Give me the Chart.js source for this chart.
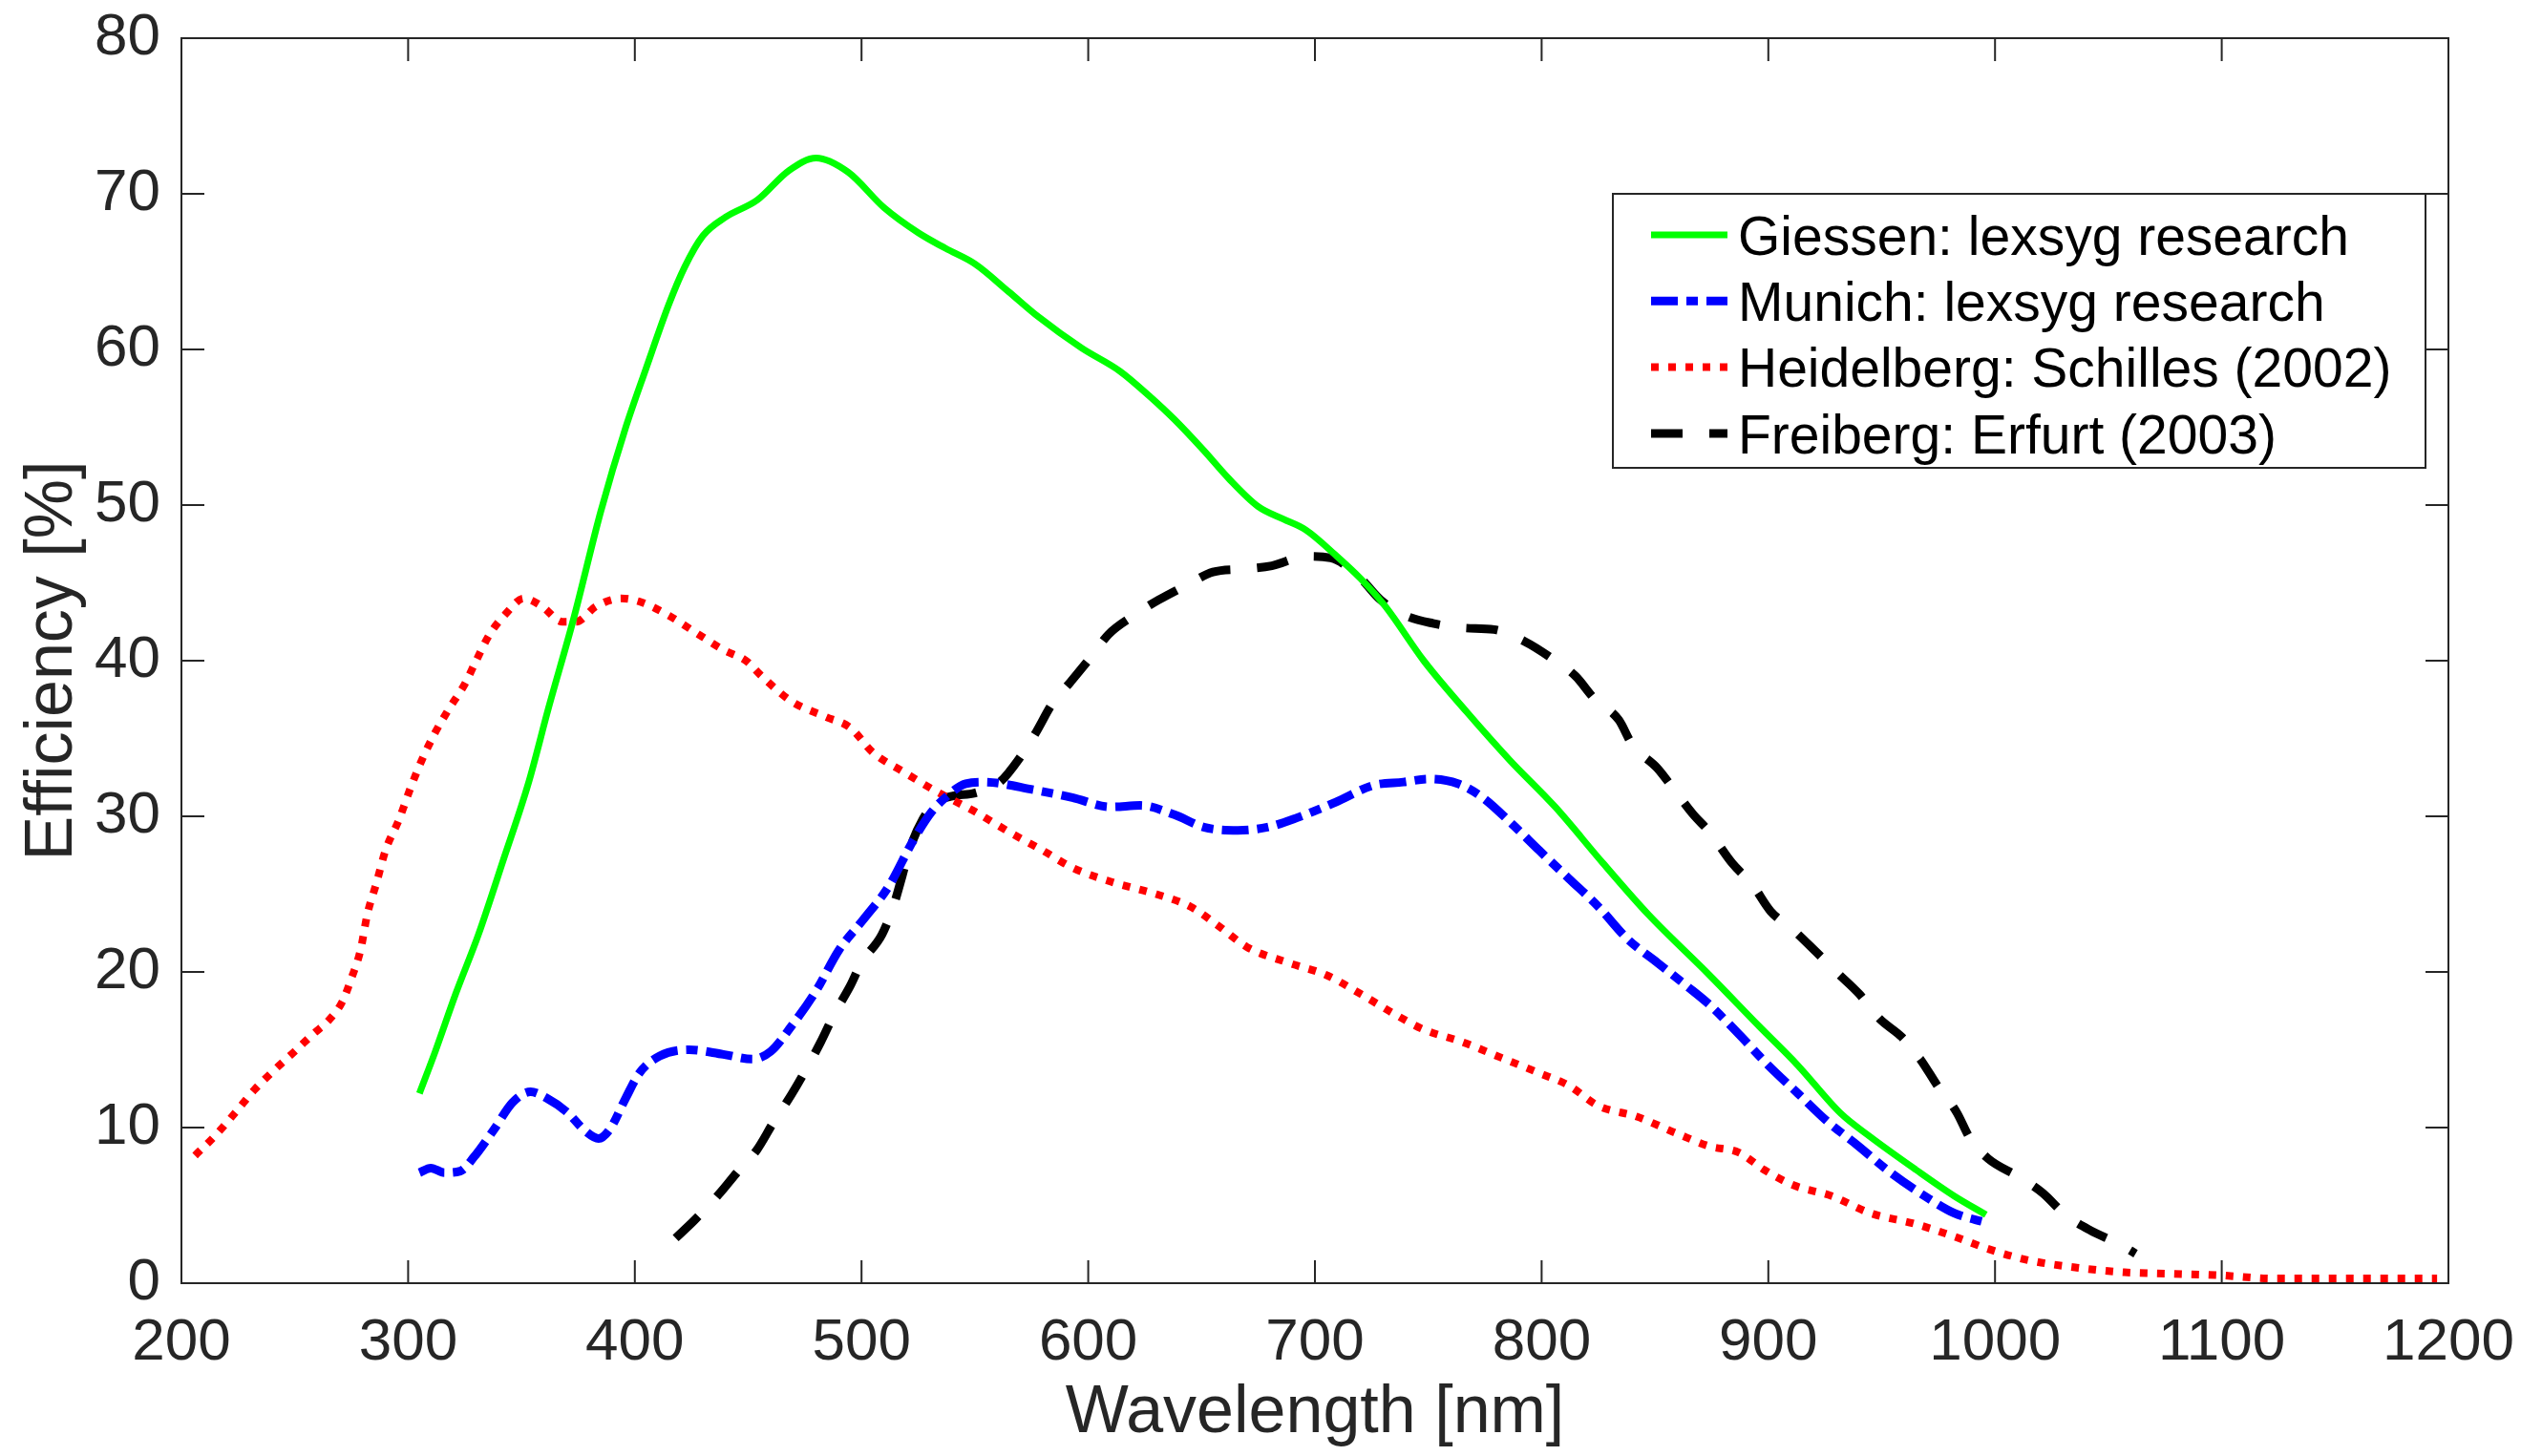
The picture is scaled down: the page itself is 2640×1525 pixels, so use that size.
<!DOCTYPE html>
<html>
<head>
<meta charset="utf-8">
<script src="https://cdn.jsdelivr.net/npm/chart.js@4.4.1/dist/chart.umd.min.js"></script>
<style>
  html, body { margin: 0; padding: 0; background: #fff; }
  #wrap { width: 2640px; height: 1525px; position: relative; }
</style>
</head>
<body>
<div id="wrap"><canvas id="chart"></canvas></div>
<script>
// Données (longueur d'onde en nm, efficacité en %)
const seriesNames = [
    'Giessen: lexsyg research',
    'Munich: lexsyg research',
    'Heidelberg: Schilles (2002)',
    'Freiberg: Erfurt (2003)'
];

const giessenX = [305, 312, 321, 331, 342, 353, 362, 373, 385, 396, 405, 415, 422, 430, 440, 454, 468, 480, 494, 510,
    525, 537, 550, 565, 578, 597, 614, 627, 638, 651, 662, 675, 686, 696, 709, 720, 731, 748, 767, 786,
    806, 827, 847, 874, 896, 913, 932, 945, 965, 982, 996];
const giessenY = [12.2, 14.9, 18.6, 22.4, 27.2, 32.1, 37.0, 42.7, 49.6, 55.0, 58.8, 62.9, 65.3, 67.3, 68.5, 69.6, 71.5, 72.3, 71.4, 69.1,
    67.5, 66.5, 65.5, 63.7, 62.1, 60.1, 58.6, 57.0, 55.5, 53.5, 51.7, 49.9, 49.1, 48.4, 46.8, 45.3, 43.5, 40.0, 36.7, 33.6,
    30.6, 27.0, 23.7, 19.8, 16.5, 14.0, 10.9, 9.4, 7.3, 5.6, 4.4];

const munichX = [305, 310, 316, 323, 329, 338, 346, 354, 361, 370, 378, 384, 389, 396, 402, 411, 424, 439, 452, 460,
    469, 480, 490, 501, 512, 523, 531, 537, 546, 554, 576, 593, 610, 623, 638, 651, 666, 679, 692, 709,
    726, 739, 750, 763, 774, 787, 799, 812, 825, 838, 851, 864, 874, 887, 900, 913, 926, 939, 954, 969,
    982, 996];
const munichY = [7.1, 7.4, 7.1, 7.2, 8.1, 9.9, 11.6, 12.3, 11.9, 11.0, 9.8, 9.3, 9.9, 11.9, 13.5, 14.6, 15.0, 14.7, 14.4, 14.9,
    16.5, 18.8, 21.4, 23.4, 25.5, 28.5, 30.3, 31.2, 32.1, 32.2, 31.7, 31.2, 30.6, 30.7, 30.1, 29.3, 29.1, 29.3, 29.9, 30.9,
    32.0, 32.2, 32.4, 32.1, 31.2, 29.5, 27.8, 26.0, 24.2, 22.1, 20.6, 19.1, 17.9, 16.0, 14.0, 12.2, 10.4, 8.9, 7.1, 5.6,
    4.5, 3.9];

const heidelbergX = [206, 215, 224, 232, 241, 250, 258, 265, 271, 275, 279, 282, 286, 290, 296, 301, 306, 312, 318, 325,
    330, 336, 343, 351, 359, 368, 374, 383, 394, 402, 415, 428, 439, 449, 456, 469, 484, 495, 505, 518,
    533, 550, 565, 580, 593, 610, 630, 645, 658, 670, 688, 705, 720, 735, 748, 765, 782, 799, 812, 825,
    842, 860, 874, 887, 898, 911, 928, 945, 965, 982, 997, 1014, 1036, 1057, 1079, 1100, 1122, 1154, 1195];
const heidelbergY = [8.2, 9.5, 11.0, 12.4, 13.7, 14.9, 16.0, 16.9, 18.1, 19.6, 21.4, 23.7, 25.7, 27.8, 29.8, 31.8, 33.6, 35.4, 36.9, 38.5,
    40.0, 41.7, 43.0, 44.0, 43.5, 42.5, 42.5, 43.5, 44.0, 43.8, 42.9, 41.7, 40.7, 40.0, 39.0, 37.4, 36.4, 35.7, 34.1, 32.9,
    31.6, 30.3, 29.0, 27.8, 26.7, 25.8, 25.0, 24.2, 22.9, 21.6, 20.6, 19.8, 18.6, 17.3, 16.3, 15.5, 14.5, 13.5, 12.7, 11.4,
    10.7, 9.6, 8.8, 8.4, 7.3, 6.3, 5.6, 4.5, 3.8, 3.0, 2.2, 1.5, 1.0, 0.7, 0.6, 0.5, 0.3, 0.3, 0.3];

const freibergX = [418, 426, 437, 445, 454, 461, 469, 475, 482, 488, 495, 500, 509, 514, 518, 521, 527, 533, 540, 550,
    561, 570, 577, 584, 592, 601, 609, 620, 631, 644, 655, 669, 681, 696, 707, 720, 729, 740, 752, 766,
    779, 793, 804, 815, 823, 834, 840, 851, 859, 867, 874, 884, 893, 901, 911, 921, 930, 940, 949, 959,
    967, 975, 983, 989, 997, 1011, 1021, 1031, 1042, 1055, 1062];
const freibergY = [2.9, 4.0, 5.7, 7.1, 8.6, 10.3, 12.1, 13.6, 15.5, 17.3, 19.1, 20.6, 22.4, 24.2, 26.2, 27.8, 29.8, 30.9, 31.3, 31.5,
    32.2, 33.8, 35.4, 37.2, 38.6, 40.2, 41.7, 42.9, 43.9, 44.9, 45.7, 45.9, 46.1, 46.7, 46.6, 45.3, 43.9, 42.9, 42.4, 42.1,
    42.0, 41.2, 40.2, 39.0, 37.6, 36.2, 34.6, 33.1, 31.6, 30.1, 29.0, 27.0, 25.6, 23.9, 22.7, 21.3, 20.0, 18.6, 17.0, 15.8,
    14.4, 12.6, 11.0, 9.3, 8.0, 6.8, 5.8, 4.4, 3.4, 2.5, 1.9];

const xTicks = [200, 300, 400, 500, 600, 700, 800, 900, 1000, 1100, 1200];
const yTicks = [0, 10, 20, 30, 40, 50, 60, 70, 80];

const axisColor = '#262626';
const fontFamily = "'Liberation Sans', Arial, Helvetica, sans-serif";

const toPoints = (xs, ys) => xs.map((x, i) => ({ x: x, y: ys[i] }));

// Cadre façon MATLAB : boîte complète + graduations vers l'intérieur
const framePlugin = {
    id: 'frame',
    afterDatasetsDraw(chart) {
        const { ctx, chartArea: a, scales: { x, y } } = chart;
        const tickLen = 24;
        ctx.save();
        ctx.strokeStyle = axisColor;
        ctx.lineWidth = 2;
        ctx.strokeRect(a.left, a.top, a.right - a.left, a.bottom - a.top);
        ctx.beginPath();
        xTicks.forEach(v => {
            const px = x.getPixelForValue(v);
            ctx.moveTo(px, a.bottom); ctx.lineTo(px, a.bottom - tickLen);
            ctx.moveTo(px, a.top); ctx.lineTo(px, a.top + tickLen);
        });
        yTicks.forEach(v => {
            const py = y.getPixelForValue(v);
            ctx.moveTo(a.left, py); ctx.lineTo(a.left + tickLen, py);
            ctx.moveTo(a.right, py); ctx.lineTo(a.right - tickLen, py);
        });
        ctx.stroke();
        ctx.restore();
    }
};

// Légende encadrée dans la zone du graphique (en haut à droite)
const legendPlugin = {
    id: 'boxLegend',
    afterDraw(chart) {
        const { ctx, chartArea: a } = chart;
        const boxW = 851, boxH = 287;
        const left = a.right - 875, top = a.top + 163;
        ctx.save();
        ctx.fillStyle = '#fff';
        ctx.fillRect(left, top, boxW, boxH);
        ctx.strokeStyle = axisColor;
        ctx.lineWidth = 2;
        ctx.strokeRect(left, top, boxW, boxH);
        ctx.font = '57px ' + fontFamily;
        ctx.textBaseline = 'middle';
        ctx.fillStyle = '#000';
        chart.data.datasets.forEach((ds, i) => {
            const cy = top + 43 + i * 69.3;
            ctx.beginPath();
            ctx.strokeStyle = ds.borderColor;
            ctx.lineWidth = ds.borderWidth;
            ctx.setLineDash(ds.borderDash || []);
            ctx.moveTo(left + 40, cy);
            ctx.lineTo(left + 120, cy);
            ctx.stroke();
            ctx.setLineDash([]);
            ctx.fillText(ds.label, left + 131, cy + 5);
        });
        ctx.restore();
    }
};

// pas de marge automatique due aux libellés : la zone est fixée par layout.padding
const noPadding = s => {
    s.paddingLeft = 0; s.paddingRight = 0; s.paddingTop = 0; s.paddingBottom = 0;
};

document.addEventListener('DOMContentLoaded', () => {
    const ctx = document.getElementById('chart');
    new Chart(ctx, {
        type: 'scatter',
        data: {
            datasets: [
                {
                    label: seriesNames[0],
                    data: toPoints(giessenX, giessenY),
                    borderColor: '#00ff00',
                    borderWidth: 7
                },
                {
                    label: seriesNames[1],
                    data: toPoints(munichX, munichY),
                    borderColor: '#0000ff',
                    borderWidth: 9,
                    borderDash: [28, 9, 12, 9]
                },
                {
                    label: seriesNames[2],
                    data: toPoints(heidelbergX, heidelbergY),
                    borderColor: '#ff0000',
                    borderWidth: 8,
                    borderDash: [8, 10]
                },
                {
                    label: seriesNames[3],
                    data: toPoints(freibergX, freibergY),
                    borderColor: '#000000',
                    borderWidth: 9,
                    borderDash: [33, 28]
                }
            ].map(ds => Object.assign(ds, {
                showLine: true,
                pointRadius: 0,
                pointHoverRadius: 0,
                fill: false,
                cubicInterpolationMode: 'monotone'
            }))
        },
        options: {
            responsive: true,
            maintainAspectRatio: false,
            devicePixelRatio: 1,
            animation: false,
            layout: { padding: { top: 40, right: 76, left: 0, bottom: 0 } },
            plugins: {
                legend: { display: false },
                tooltip: { enabled: false }
            },
            scales: {
                x: {
                    type: 'linear',
                    min: 200,
                    max: 1200,
                    afterFit: s => { s.height = 181; noPadding(s); },
                    afterBuildTicks: s => { s.ticks = xTicks.map(v => ({ value: v })); },
                    grid: { display: false, drawTicks: false },
                    border: { display: false },
                    ticks: {
                        color: axisColor,
                        padding: 26,
                        maxRotation: 0,
                        callback: v => String(v),
                        font: { family: fontFamily, size: 62 }
                    },
                    title: {
                        display: true,
                        text: 'Wavelength [nm]',
                        color: axisColor,
                        padding: { top: 0, bottom: 2 },
                        font: { family: fontFamily, size: 70 }
                    }
                },
                y: {
                    type: 'linear',
                    min: 0,
                    max: 80,
                    afterFit: s => { s.width = 190; noPadding(s); },
                    afterBuildTicks: s => { s.ticks = yTicks.map(v => ({ value: v })); },
                    grid: { display: false, drawTicks: false },
                    border: { display: false },
                    ticks: {
                        color: axisColor,
                        padding: 22,
                        callback: v => String(v),
                        font: { family: fontFamily, size: 62 }
                    },
                    title: {
                        display: true,
                        text: 'Efficiency [%]',
                        color: axisColor,
                        padding: { top: 14, bottom: 0 },
                        font: { family: fontFamily, size: 70 }
                    }
                }
            }
        },
        plugins: [framePlugin, legendPlugin]
    });
});
</script>
</body>
</html>
